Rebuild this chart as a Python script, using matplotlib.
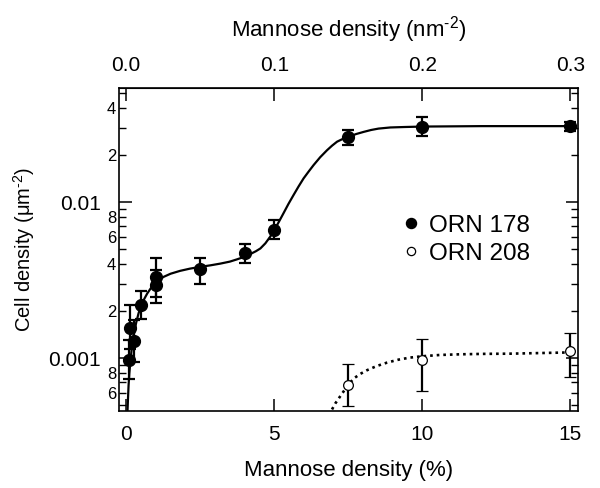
import matplotlib
matplotlib.use("Agg")
import matplotlib.pyplot as plt
from matplotlib.ticker import FixedLocator, FixedFormatter

plt.rcParams['font.family'] = ['Liberation Sans', 'DejaVu Sans']
plt.rcParams['mathtext.fontset'] = 'custom'
plt.rcParams['mathtext.rm'] = 'Liberation Sans'
plt.rcParams['mathtext.it'] = 'Liberation Sans:italic'
plt.rcParams['mathtext.default'] = 'regular'

# ORN 178 data (mannose %, cell density um^-2, error low, error high)
orn178_x = [0.1, 0.12, 0.25, 0.5, 1.0, 1.0, 2.5, 4.0, 5.0, 7.5, 10.0, 15.0]
orn178_y = [0.00098, 0.00157, 0.00129, 0.0022, 0.00332, 0.00296, 0.00371, 0.00469, 0.0066, 0.026, 0.0304, 0.0308]
orn178_lo = [0.00074, 0.00114, 0.00095, 0.00178, 0.00247, 0.00226, 0.00298, 0.0041, 0.00585, 0.0232, 0.0265, 0.0287]
orn178_hi = [0.0013, 0.00219, 0.00176, 0.0027, 0.00436, 0.0037, 0.0044, 0.0054, 0.0077, 0.029, 0.0349, 0.0327]

# ORN 208 data
orn208_x = [7.5, 10.0, 15.0]
orn208_y = [0.000678, 0.000981, 0.00111]
orn208_lo = [0.000492, 0.000617, 0.00076]
orn208_hi = [0.000925, 0.00132, 0.00146]

# fitted curves
fit178_x = [0.03, 0.044, 0.06, 0.08, 0.105, 0.135, 0.18, 0.226, 0.28, 0.34, 0.42, 0.52, 0.61, 0.71, 0.82, 0.92,
            1.08, 1.26, 1.5, 1.82, 2.15, 2.5, 2.85, 3.18, 3.5, 3.74, 3.98, 4.19, 4.38, 4.53, 4.7, 4.86, 5.03,
            5.17, 5.31, 5.48, 5.65, 5.82, 5.99, 6.16, 6.33, 6.55, 6.78, 6.95, 7.12, 7.31, 7.51, 7.76,
            8.02, 8.27, 8.52, 8.92, 9.4, 10.0, 11.0, 12.0, 13.5, 15.0]
fit178_y = [0.00042, 0.00046, 0.00055, 0.00067, 0.0008, 0.000925, 0.00112, 0.0013, 0.0015, 0.0017, 0.00195, 0.0022,
            0.0024, 0.0026, 0.00279, 0.00294, 0.00314, 0.00332, 0.00348, 0.00363, 0.00375, 0.00385, 0.00394,
            0.00404, 0.00416, 0.0043, 0.00446, 0.00465, 0.00485, 0.00505, 0.00545, 0.006, 0.00678,
            0.00757, 0.00848, 0.00975, 0.0111, 0.0126, 0.0142, 0.0157, 0.0173, 0.0194, 0.0215, 0.023,
            0.0244, 0.0254, 0.0262, 0.0273, 0.0282, 0.029, 0.0296, 0.0301, 0.0303, 0.0305, 0.0306,
            0.0307, 0.0307, 0.0307]
fit208_x = [6.95, 7.06, 7.29, 7.48, 7.68, 7.9, 8.13, 8.45, 8.81, 9.2, 9.59, 10.0, 10.6, 11.28, 12.1, 12.97, 14.0, 15.0]
fit208_y = [0.00047, 0.000513, 0.000594, 0.000668, 0.000741, 0.000793, 0.000838, 0.00089, 0.000938, 0.00098,
            0.00101, 0.00103, 0.00105, 0.00106, 0.001067, 0.00107, 0.00108, 0.00109]

xticks = [0, 5, 10, 15]
top_ticks = [0.0, 0.1, 0.2, 0.3]

fig = plt.figure(figsize=(6.0, 4.88), dpi=100)
ax = fig.add_axes([0.198, 0.158, 0.765, 0.662])

ax.plot(fit178_x, fit178_y, color='black', lw=1.6, solid_capstyle='round', zorder=2)
ax.plot(fit208_x, fit208_y, color='black', lw=1.9, linestyle=(0, (1.0, 1.5)), zorder=2)

y178 = orn178_y
err178 = [[y - l for y, l in zip(y178, orn178_lo)], [h - y for y, h in zip(y178, orn178_hi)]]
ax.errorbar(orn178_x, y178, yerr=err178, fmt='o', color='black', ms=8.5, mfc='black', mec='black',
            elinewidth=1.6, capsize=4, capthick=1.6, zorder=3, label='ORN 178')
err208 = [[y - l for y, l in zip(orn208_y, orn208_lo)], [h - y for y, h in zip(orn208_y, orn208_hi)]]
ax.errorbar(orn208_x, orn208_y, yerr=err208, fmt='o', color='black', ms=7, mfc='white', mec='black',
            mew=0.9, elinewidth=1.6, capsize=4, capthick=1.6, zorder=3, label='ORN 208')

ax.set_yscale('log')
ax.set_xlim(-0.25, 15.25)
ax.set_ylim(4.6e-4, 5.4e-2)

ax.set_xticks(xticks)
ax.set_xticklabels([str(t) for t in xticks])
ax.xaxis.set_minor_locator(FixedLocator([]))

major_y = [1e-3, 1e-2]
ax.yaxis.set_major_locator(FixedLocator(major_y))
ax.yaxis.set_major_formatter(FixedFormatter(['0.001', '0.01']))
minor_y = []
minor_lab = []
for dec in [1e-4, 1e-3, 1e-2]:
    for m in range(2, 10):
        minor_y.append(m * dec)
        minor_lab.append(str(m) if m in (2, 4, 6, 8) else '')
ax.yaxis.set_minor_locator(FixedLocator(minor_y))
ax.yaxis.set_minor_formatter(FixedFormatter(minor_lab))

ax.tick_params(axis='both', which='major', direction='in', length=9, width=1.1, labelsize=15, top=False, right=True)
ax.tick_params(axis='y', which='major', pad=13)
ax.tick_params(axis='y', which='minor', direction='in', length=5, width=1.0, labelsize=12, right=True, pad=2)
ax.tick_params(axis='x', which='major', pad=10)
for s in ax.spines.values():
    s.set_linewidth(1.2)

top = ax.secondary_xaxis('top', functions=(lambda x: x / 50.0, lambda x: x * 50.0))
top.set_xticks(top_ticks)
top.set_xticklabels(['%.1f' % t for t in top_ticks])
top.tick_params(direction='in', length=9, width=1.1, labelsize=15, pad=9)
top.set_xlabel('Mannose density (nm$^{\u2010 2}$)', fontsize=16, labelpad=14)

ax.set_xlabel('Mannose density (%)', fontsize=16, labelpad=12)
ax.set_ylabel('Cell density (\u03bcm$^{\u2010 2}$)', fontsize=14.5)
ax.yaxis.set_label_coords(-0.178, 0.5)

h, l = ax.get_legend_handles_labels()
leg = ax.legend([hh[0] for hh in h], l, loc='upper left', bbox_to_anchor=(0.563, 0.675), frameon=False,
                fontsize=17.5, handletextpad=0.25, handlelength=1.0, labelspacing=0.25, markerscale=0.85)

fig.savefig('out.png', dpi=100)
